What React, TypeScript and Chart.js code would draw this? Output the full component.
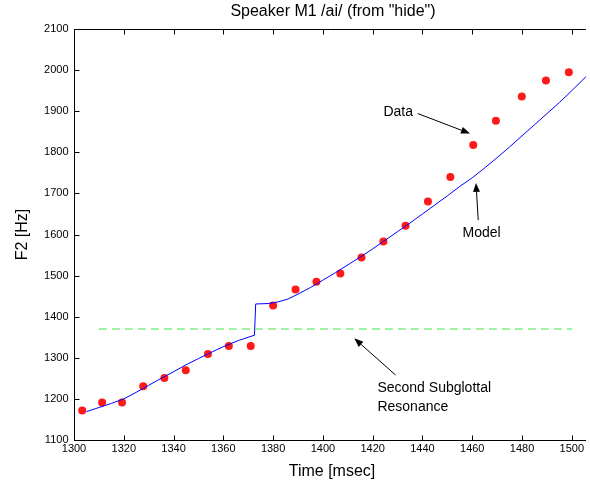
import React, { useEffect, useRef } from "react";
import { Chart, registerables } from "chart.js";

Chart.register(...registerables);

const chartTitle = 'Speaker M1 /ai/ (from "hide")';
const xTitle = "Time [msec]";
const yTitle = "F2 [Hz]";

const xTicks = [1300, 1320, 1340, 1360, 1380, 1400, 1420, 1440, 1460, 1480, 1500];
const yTicks = [1100, 1200, 1300, 1400, 1500, 1600, 1700, 1800, 1900, 2000, 2100];

const dataTime = [1303.3, 1311.3, 1319.3, 1327.8, 1336.3, 1344.9, 1353.8, 1362.2, 1371.0, 1380.0, 1389.0, 1397.4, 1407.0, 1415.5, 1424.3, 1433.2, 1442.2, 1451.2, 1460.4, 1469.5, 1479.9, 1489.6, 1498.8];
const dataF2 = [1172, 1191, 1191, 1231, 1251, 1270, 1309, 1329, 1329, 1427, 1466, 1485, 1505, 1544, 1583, 1621, 1680, 1740, 1818, 1877, 1936, 1975, 1995];

const modelTime = [1305, 1310, 1315, 1320, 1325, 1330, 1335, 1340, 1345, 1350, 1355, 1360, 1366, 1372.5, 1373, 1378, 1382, 1386, 1390, 1395, 1400, 1405, 1410, 1415, 1420, 1425, 1430, 1435, 1440, 1445, 1450, 1455, 1460, 1465, 1470, 1475, 1480, 1485, 1490, 1495, 1500, 1505.7];
const modelF2 = [1169, 1179, 1189, 1200, 1216, 1233, 1250, 1266, 1283, 1298, 1313, 1327, 1342, 1355, 1431, 1432, 1436, 1443, 1455, 1471, 1489, 1507, 1526, 1545, 1565, 1586, 1607, 1628, 1650, 1672, 1694, 1717, 1738, 1762, 1787, 1813, 1840, 1867, 1894, 1921, 1950, 1984];

const resonanceTime = [1310, 1500];
const resonanceF2 = [1370, 1370];

// annotations: text anchor (left, middle) and arrow start/end in data units
const noteLines = [["Data"], ["Model"], ["Second Subglottal", "Resonance"]];
const noteX = [1424.3, 1456.1, 1421.9];
const noteY = [1898, 1604, 1226];
const arrowFromX = [1438.1, 1462.4, 1429.2];
const arrowFromY = [1894.3, 1634.9, 1258];
const arrowToX = [1459.1, 1461.5, 1412.6];
const arrowToY = [1845.7, 1725.6, 1347.3];

const FONT = '"Liberation Sans", Arial, Helvetica, sans-serif';

const framePlugin = {
  id: "matlabFrame",
  afterDatasetsDraw(chart: any) {
    const { ctx, chartArea, scales } = chart;
    const xs = scales.x;
    const ys = scales.y;
    const L = Math.round(chartArea.left) + 0.5;
    const R = chartArea.right;
    const T = Math.round(chartArea.top) + 0.5;
    const B = Math.round(chartArea.bottom) + 0.5;
    ctx.save();
    ctx.strokeStyle = "#000";
    ctx.lineWidth = 1;
    ctx.beginPath();
    ctx.moveTo(L, T);
    ctx.lineTo(R, T);
    ctx.moveTo(L, T);
    ctx.lineTo(L, B);
    ctx.lineTo(R, B);
    xTicks.forEach((v) => {
      const px = Math.round(xs.getPixelForValue(v)) + 0.5;
      ctx.moveTo(px, B);
      ctx.lineTo(px, B - 5);
      ctx.moveTo(px, T);
      ctx.lineTo(px, T + 5);
    });
    yTicks.forEach((v) => {
      const py = Math.round(ys.getPixelForValue(v)) + 0.5;
      ctx.moveTo(L, py);
      ctx.lineTo(L + 5, py);
    });
    ctx.stroke();

    ctx.fillStyle = "#000";
    ctx.font = "11px " + FONT;
    ctx.textAlign = "center";
    ctx.textBaseline = "middle";
    xTicks.forEach((v) => {
      ctx.fillText(String(v), xs.getPixelForValue(v), B + 8);
    });
    ctx.textAlign = "right";
    yTicks.forEach((v) => {
      ctx.fillText(String(v), L - 6, ys.getPixelForValue(v));
    });

    ctx.font = "16px " + FONT;
    ctx.textAlign = "center";
    ctx.fillText(chartTitle, (chartArea.left + chartArea.right) / 2 + 3, 12);
    ctx.fillText(xTitle, (chartArea.left + chartArea.right) / 2 + 2, 472);
    ctx.save();
    ctx.translate(23, (chartArea.top + chartArea.bottom) / 2);
    ctx.rotate(-Math.PI / 2);
    ctx.fillText(yTitle, 0, 0);
    ctx.restore();

    ctx.font = "14px " + FONT;
    ctx.textAlign = "left";
    noteLines.forEach((lines, i) => {
      const tx = xs.getPixelForValue(noteX[i]);
      const ty = ys.getPixelForValue(noteY[i]);
      lines.forEach((ln, j) => ctx.fillText(ln, tx, ty + j * 19));
      const x1 = xs.getPixelForValue(arrowFromX[i]);
      const y1 = ys.getPixelForValue(arrowFromY[i]);
      const x2 = xs.getPixelForValue(arrowToX[i]);
      const y2 = ys.getPixelForValue(arrowToY[i]);
      const ang = Math.atan2(y2 - y1, x2 - x1);
      const hl = 9;
      const hw = 3.5;
      const bx = x2 - hl * Math.cos(ang);
      const by = y2 - hl * Math.sin(ang);
      ctx.beginPath();
      ctx.moveTo(x1, y1);
      ctx.lineTo(bx, by);
      ctx.stroke();
      ctx.beginPath();
      ctx.moveTo(x2, y2);
      ctx.lineTo(bx + hw * Math.sin(ang), by - hw * Math.cos(ang));
      ctx.lineTo(bx - hw * Math.sin(ang), by + hw * Math.cos(ang));
      ctx.closePath();
      ctx.fill();
    });
    ctx.restore();
  },
};

export default function App() {
  const ref = useRef<HTMLCanvasElement | null>(null);
  useEffect(() => {
    if (!ref.current) return;
    const chart = new Chart(ref.current, {
      type: "scatter",
      data: {
        datasets: [
          {
            label: "Second Subglottal Resonance",
            data: resonanceTime.map((t, i) => ({ x: t, y: resonanceF2[i] })),
            showLine: true,
            borderColor: "#80ee80",
            borderWidth: 1.5,
            borderDash: [8, 5],
            pointRadius: 0,
          },
          {
            label: "Model",
            data: modelTime.map((t, i) => ({ x: t, y: modelF2[i] })),
            showLine: true,
            borderColor: "#0000ff",
            borderWidth: 1,
            pointRadius: 0,
            tension: 0,
          },
          {
            label: "Data",
            data: dataTime.map((t, i) => ({ x: t, y: dataF2[i] })),
            showLine: false,
            backgroundColor: "#ff1a1a",
            borderColor: "#ff1a1a",
            borderWidth: 0,
            pointRadius: 4,
          },
        ],
      },
      options: {
        responsive: false,
        animation: false,
        devicePixelRatio: 1,
        layout: { padding: { left: 74, top: 29, right: 0, bottom: 44 } },
        plugins: { legend: { display: false }, tooltip: { enabled: false }, title: { display: false } },
        scales: {
          x: { type: "linear", min: 1300, max: 1505.7, display: false },
          y: { type: "linear", min: 1100, max: 2100, display: false },
        },
      },
      plugins: [framePlugin],
    });
    return () => chart.destroy();
  }, []);
  return (
    <div style={{ position: "absolute", left: 0, top: 0, width: 590, height: 484, background: "#fff" }}>
      <canvas ref={ref} width={590} height={484} />
    </div>
  );
}
